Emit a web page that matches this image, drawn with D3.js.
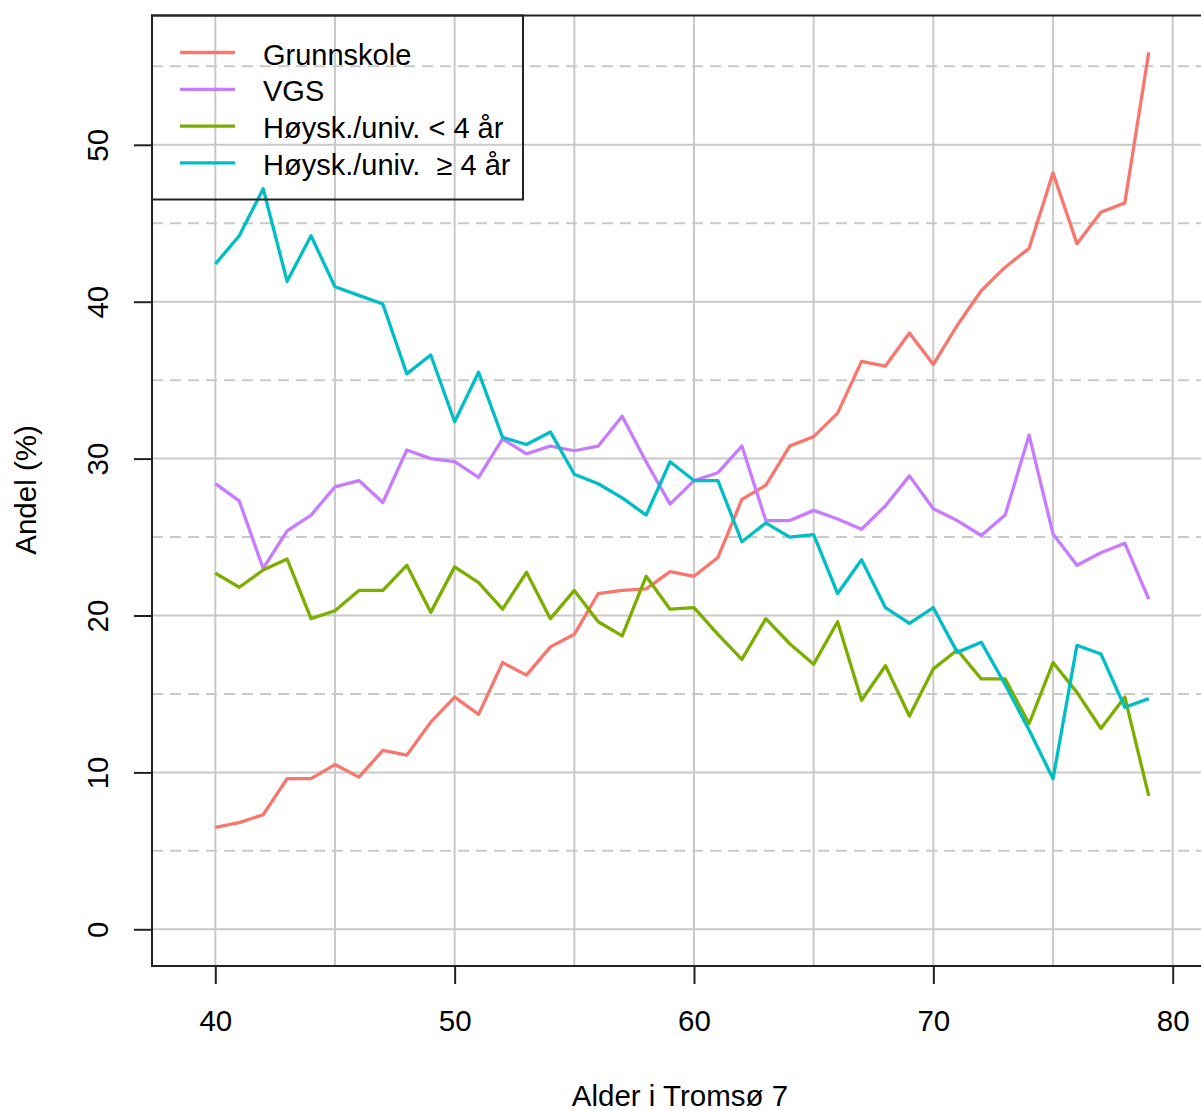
<!DOCTYPE html>
<html><head><meta charset="utf-8">
<script src="https://cdn.jsdelivr.net/npm/d3@7"></script>
<style>body{margin:0;background:#fff;} svg{display:block;} text{font-family:"Liberation Sans",Arial,sans-serif;fill:#000;white-space:pre;}</style>
</head><body>
<svg id="c" width="1201" height="1111"></svg>
<script>
const ages = d3.range(40, 80);
const seriesNames = ["Grunnskole", "VGS", "Høysk./univ. < 4 år", "Høysk./univ.  \u2265 4 år"];
const seriesColors = ["#F8766D", "#C77CFF", "#7CAE00", "#00BFC4"];
const grunnskole = [6.5,6.8,7.3,9.6,9.6,10.5,9.7,11.4,11.1,13.2,14.8,13.7,17.0,16.2,18.0,18.8,21.4,21.6,21.7,22.8,22.5,23.7,27.4,28.3,30.8,31.4,32.9,36.2,35.9,38.0,36.0,38.5,40.7,42.2,43.4,48.2,43.7,45.7,46.3,55.9];
const vgs = [28.4,27.3,23.0,25.4,26.4,28.2,28.6,27.2,30.55,30.0,29.8,28.8,31.25,30.3,30.8,30.5,30.8,32.7,29.8,27.1,28.6,29.1,30.8,26.05,26.05,26.7,26.15,25.5,27.0,28.9,26.8,26.05,25.1,26.4,31.5,25.2,23.2,24.0,24.6,21.05];
const hoyskUnder4 = [22.7,21.8,22.9,23.6,19.8,20.3,21.6,21.6,23.2,20.2,23.1,22.1,20.4,22.75,19.8,21.6,19.6,18.7,22.5,20.4,20.5,18.8,17.2,19.8,18.2,16.9,19.6,14.6,16.8,13.6,16.6,17.8,15.96,15.96,13.1,17.0,15.1,12.8,14.8,8.5];
const hoyskOver4 = [42.4,44.2,47.2,41.3,44.2,40.95,40.4,39.85,35.4,36.6,32.35,35.5,31.35,30.9,31.7,29.0,28.4,27.5,26.4,29.8,28.6,28.6,24.7,25.9,25.0,25.15,21.4,23.55,20.5,19.5,20.5,17.65,18.3,15.6,12.7,9.6,18.1,17.55,14.15,14.7];
const seriesValues = [grunnskole, vgs, hoyskUnder4, hoyskOver4];
const xTicks = [40, 50, 60, 70, 80];
const yTicks = [0, 10, 20, 30, 40, 50];
const xGrid = [40, 45, 50, 55, 60, 65, 70, 75, 80];
const yGridDashed = [5, 15, 25, 35, 45, 55];
const xTitle = "Alder i Tromsø 7";
const yTitle = "Andel (%)";

const svg = d3.select("#c");
const L = 152, T = 15.5, R = 1208, B = 966;
const x = d3.scaleLinear().domain([40, 80]).range([215.3, 1172.7]);
const y = d3.scaleLinear().domain([0, 50]).range([929.3, 144.8]);
const FS = 29.5, LFS = 29;
const gridCol = "#c9c9c9";

// grid
const g = svg.append("g");
g.selectAll(".vg").data(xGrid).join("line")
  .attr("x1", d => x(d)).attr("x2", d => x(d)).attr("y1", T).attr("y2", B)
  .attr("stroke", gridCol).attr("stroke-width", 2);
g.selectAll(".hg").data(yTicks).join("line")
  .attr("x1", L).attr("x2", R).attr("y1", d => y(d)).attr("y2", d => y(d))
  .attr("stroke", gridCol).attr("stroke-width", 2);
g.selectAll(".hd").data(yGridDashed).join("line")
  .attr("x1", L).attr("x2", R).attr("y1", d => y(d)).attr("y2", d => y(d))
  .attr("stroke", gridCol).attr("stroke-width", 2).attr("stroke-dasharray", "11,7");

// lines
const line = d3.line().x((d, i) => x(ages[i])).y(d => y(d));
svg.append("g").selectAll("path").data(seriesValues).join("path")
  .attr("d", d => line(d)).attr("fill", "none")
  .attr("stroke", (d, i) => seriesColors[i]).attr("stroke-width", 3.3)
  .attr("stroke-linejoin", "round");

// frame
svg.append("rect").attr("x", L).attr("y", T).attr("width", R - L).attr("height", B - T)
  .attr("fill", "none").attr("stroke", "#222").attr("stroke-width", 2);

// x axis
const xa = svg.append("g").attr("transform", `translate(0,${B})`)
  .call(d3.axisBottom(x).tickValues(xTicks).tickSize(18).tickPadding(26).tickFormat(d3.format("d")));
xa.select(".domain").remove();
xa.selectAll("line").attr("stroke", "#222").attr("stroke-width", 2);
xa.selectAll("text").style("font-size", FS + "px").attr("font-family", null).attr("fill", "#000");

// y axis
const ya = svg.append("g").attr("transform", `translate(${L},0)`)
  .call(d3.axisLeft(y).tickValues(yTicks).tickSize(18).tickFormat(d3.format("d")));
ya.select(".domain").remove();
ya.selectAll("line").attr("stroke", "#222").attr("stroke-width", 2);
ya.selectAll("text").style("font-size", FS + "px").attr("font-family", null)
  .attr("x", null).attr("dy", null).attr("text-anchor", "middle")
  .attr("transform", "translate(-44,0) rotate(-90)").attr("fill", "#000");

// titles
svg.append("text").attr("x", (L + R) / 2).attr("y", 1106).attr("text-anchor", "middle")
  .style("font-size", FS + "px").text(xTitle);
svg.append("text").attr("transform", "translate(36,490) rotate(-90)").attr("text-anchor", "middle")
  .style("font-size", FS + "px").text(yTitle);

// legend
const lg = svg.append("g");
lg.append("rect").attr("x", L).attr("y", T).attr("width", 371).attr("height", 184)
  .attr("fill", "none").attr("stroke", "#222").attr("stroke-width", 2);
const rowY = i => 52.5 + i * 36.8;
lg.selectAll("line").data(seriesNames).join("line")
  .attr("x1", 180).attr("x2", 235).attr("y1", (d, i) => rowY(i)).attr("y2", (d, i) => rowY(i))
  .attr("stroke", (d, i) => seriesColors[i]).attr("stroke-width", 3.3);
lg.selectAll("text").data(seriesNames).join("text")
  .attr("x", 263).attr("y", (d, i) => rowY(i)).attr("dy", "0.42em")
  .style("font-size", LFS + "px").text(d => d);
</script>
</body></html>
